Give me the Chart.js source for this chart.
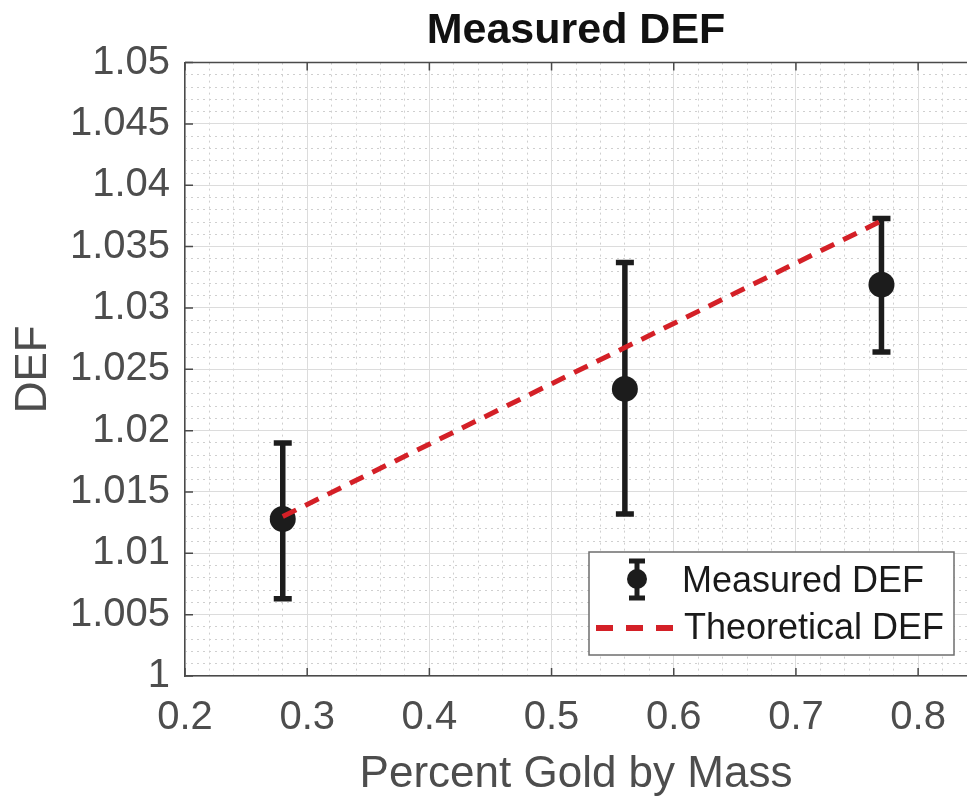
<!DOCTYPE html>
<html><head><meta charset="utf-8">
<script src="https://cdn.jsdelivr.net/npm/chart.js@4/dist/chart.umd.min.js"></script>
<style>html,body{margin:0;padding:0;background:#fff;overflow:hidden;width:967px;height:802px}canvas{display:block}</style>
</head><body><canvas id="c" width="980" height="802" style="width:980px;height:802px"></canvas>
<script>
// ---- data ----
const goldFraction = [0.28, 0.56, 0.77];
const measuredDEF  = [1.0128, 1.0234, 1.0319];
const errLow       = [1.0063, 1.0132, 1.0264];
const errHigh      = [1.0190, 1.0337, 1.0373];
const theoryX      = [0.28, 0.77];
const theoryDEF    = [1.0130, 1.0371];
const xTickLabels  = ['0.2','0.3','0.4','0.5','0.6','0.7','0.8'];
const yTickLabels  = ['1','1.005','1.01','1.015','1.02','1.025','1.03','1.035','1.04','1.045','1.05'];
const seriesNames  = ['Measured DEF', 'Theoretical DEF'];

const FONT = "'Liberation Sans', Arial, Helvetica, sans-serif";
const TICKC = '#4d4d4d', AXC = '#4a4a4a', RED = '#d42027', BLK = '#1c1c1c';

const errorBarPlugin = {
  id: 'errbars',
  beforeDatasetsDraw(chart) {
    const {ctx, scales: {x, y}} = chart;
    ctx.save();
    ctx.strokeStyle = BLK; ctx.lineWidth = 5.5; ctx.lineCap = 'butt';
    goldFraction.forEach((g, i) => {
      const px = x.getPixelForValue(g);
      const pt = y.getPixelForValue(errHigh[i]);
      const pb = y.getPixelForValue(errLow[i]);
      ctx.beginPath();
      ctx.moveTo(px, pt); ctx.lineTo(px, pb);
      ctx.moveTo(px - 9, pt); ctx.lineTo(px + 9, pt);
      ctx.moveTo(px - 9, pb); ctx.lineTo(px + 9, pb);
      ctx.stroke();
    });
    ctx.restore();
  },
  afterDraw(chart) {
    const {ctx, chartArea: ca, scales: {x, y}} = chart;
    ctx.save();
    ctx.strokeStyle = AXC; ctx.lineWidth = 1.5;
    ctx.beginPath(); ctx.moveTo(ca.left, ca.top); ctx.lineTo(ca.right, ca.top); ctx.stroke();
    ctx.beginPath();
    xTickLabels.forEach(l => {
      const px = x.getPixelForValue(Number(l));
      ctx.moveTo(px, ca.bottom); ctx.lineTo(px, ca.bottom - 8);
      ctx.moveTo(px, ca.top); ctx.lineTo(px, ca.top + 8);
    });
    yTickLabels.forEach(l => {
      const py = y.getPixelForValue(Number(l));
      ctx.moveTo(ca.left, py); ctx.lineTo(ca.left + 8, py);
    });
    ctx.stroke();
    // legend
    const L = 589, T = 552, R = 954, B = 655;
    ctx.fillStyle = '#fff'; ctx.fillRect(L, T, R - L, B - T);
    ctx.strokeStyle = '#6e6e6e'; ctx.lineWidth = 1.5; ctx.strokeRect(L, T, R - L, B - T);
    ctx.strokeStyle = BLK; ctx.lineWidth = 5;
    ctx.beginPath();
    ctx.moveTo(637, 561); ctx.lineTo(637, 598);
    ctx.moveTo(629, 561); ctx.lineTo(645, 561);
    ctx.moveTo(629, 598); ctx.lineTo(645, 598);
    ctx.stroke();
    ctx.fillStyle = BLK; ctx.beginPath(); ctx.arc(637, 579, 10, 0, Math.PI * 2); ctx.fill();
    ctx.strokeStyle = RED; ctx.lineWidth = 6; ctx.setLineDash([17, 13]);
    ctx.beginPath(); ctx.moveTo(596, 628); ctx.lineTo(676, 628); ctx.stroke();
    ctx.setLineDash([]);
    ctx.fillStyle = '#1a1a1a'; ctx.font = '36px ' + FONT; ctx.textBaseline = 'middle'; ctx.textAlign = 'left';
    ctx.fillText(seriesNames[0], 682, 582);
    ctx.fillText(seriesNames[1], 684, 629);
    ctx.restore();
  }
};

new Chart(document.getElementById('c'), {
  type: 'scatter',
  data: {
    datasets: [
      {
        label: seriesNames[1],
        data: theoryX.map((v, i) => ({x: v, y: theoryDEF[i]})),
        showLine: true, borderColor: RED, borderWidth: 5, borderDash: [15, 10],
        pointRadius: 0, fill: false
      },
      {
        label: seriesNames[0],
        data: goldFraction.map((v, i) => ({x: v, y: measuredDEF[i]})),
        pointRadius: 13, pointBackgroundColor: BLK, pointBorderWidth: 0, showLine: false
      }
    ]
  },
  options: {
    responsive: false, maintainAspectRatio: false, animation: false, devicePixelRatio: 1,
    layout: {padding: {left: 0, right: 0, top: 0, bottom: 0}},
    plugins: {
      legend: {display: false}, tooltip: {enabled: false},
      title: {display: true, fullSize: false, text: 'Measured DEF', color: '#111',
        font: {family: FONT, size: 43, weight: 'bold'}, padding: {top: 5, bottom: 6}}
    },
    scales: {
      xm: {
        type: 'linear', position: 'bottom', min: 0.2, max: 0.84,
        ticks: {display: false, stepSize: 0.02, maxTicksLimit: 100},
        grid: {color: '#cfcfcf', lineWidth: 1, drawTicks: false},
        border: {display: false, dash: [2, 4]},
        afterFit(s) { s.height = 0; s.paddingLeft = 0; s.paddingRight = 0; }
      },
      ym: {
        type: 'linear', position: 'left', min: 1, max: 1.05,
        ticks: {display: false, stepSize: 0.001, maxTicksLimit: 100},
        grid: {color: '#cfcfcf', lineWidth: 1, drawTicks: false},
        border: {display: false, dash: [2, 4]},
        afterFit(s) { s.width = 0; s.paddingTop = 0; s.paddingBottom = 0; }
      },
      x: {
        type: 'linear', position: 'bottom', min: 0.2, max: 0.84,
        afterBuildTicks(s) { s.ticks = xTickLabels.map(l => ({value: Number(l)})); },
        ticks: {color: TICKC, font: {family: FONT, size: 40}, padding: 18,
          callback: (v, i) => xTickLabels[i]},
        grid: {color: '#dcdcdc', lineWidth: 1, drawTicks: false},
        border: {color: AXC, width: 1.5},
        title: {display: true, text: 'Percent Gold by Mass', color: TICKC,
          font: {family: FONT, size: 44}, padding: {top: 0, bottom: 1}},
        afterFit(s) { s.height = 126; s.paddingLeft = 0; s.paddingRight = 0; }
      },
      y: {
        type: 'linear', position: 'left', min: 1, max: 1.05,
        afterBuildTicks(s) { s.ticks = yTickLabels.map(l => ({value: Number(l)})); },
        ticks: {color: TICKC, font: {family: FONT, size: 40}, padding: 15,
          callback: (v, i) => yTickLabels[i]},
        grid: {color: '#dcdcdc', lineWidth: 1, drawTicks: false},
        border: {color: AXC, width: 1.5},
        title: {display: true, text: 'DEF', color: TICKC,
          font: {family: FONT, size: 44}, padding: {top: 7, bottom: 0}},
        afterFit(s) { s.width = 185; s.paddingTop = 0; s.paddingBottom = 0; }
      }
    }
  },
  plugins: [errorBarPlugin]
});
</script>
</body></html>
